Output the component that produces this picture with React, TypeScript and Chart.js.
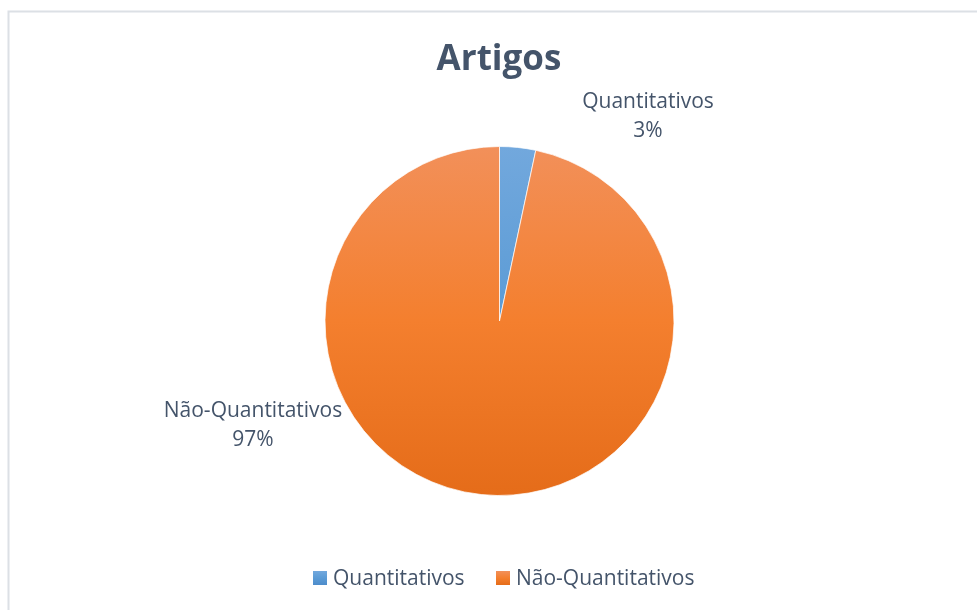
import React, { useEffect, useRef } from "react";
import { Chart, registerables } from "chart.js";

Chart.register(...registerables);

const titleText = "Artigos";
const categories = ["Quantitativos", "Não-Quantitativos"];
const values = [1, 29];
const percentLabels = ["3%", "97%"];
const gradTop = ["#72A8DD", "#F2905A"];
const gradMid = ["#5B9BD5", "#F47F2E"];
const gradBottom = ["#4D8CCB", "#E56C19"];

const FONT = "'Open Sans', 'Noto Sans', sans-serif";
const TEXT = "#44546A";

function makeGrad(ctx: CanvasRenderingContext2D, y0: number, y1: number, i: number) {
  const g = ctx.createLinearGradient(0, y0, 0, y1);
  g.addColorStop(0, gradTop[i]);
  g.addColorStop(0.5, gradMid[i]);
  g.addColorStop(1, gradBottom[i]);
  return g;
}

const overlayPlugin = {
  id: "overlay",
  afterDraw(chart: any) {
    const ctx: CanvasRenderingContext2D = chart.ctx;
    ctx.save();
    // frame
    ctx.strokeStyle = "#DCE0E5";
    ctx.lineWidth = 2;
    ctx.strokeRect(8.5, 11.5, 990, 620);
    // title
    ctx.fillStyle = TEXT;
    ctx.textAlign = "center";
    ctx.textBaseline = "middle";
    ctx.font = `bold 35px ${FONT}`;
    ctx.fillText(titleText, 499, 60);
    // data labels
    const meta = chart.getDatasetMeta(0);
    ctx.font = `21px ${FONT}`;
    const labelPos = [
      { x: 648, y: 102 },
      { x: 253, y: 411 },
    ];
    meta.data.forEach((arc: any, i: number) => {
      const p = labelPos[i];
      ctx.fillText(categories[i], p.x, p.y);
      ctx.fillText(percentLabels[i], p.x, p.y + 29);
    });
    // legend
    const legendX = [313, 496];
    categories.forEach((c, i) => {
      const x = legendX[i];
      const y = 571;
      ctx.fillStyle = makeGrad(ctx, y, y + 14, i);
      ctx.fillRect(x, y, 14, 14);
      ctx.fillStyle = TEXT;
      ctx.textAlign = "left";
      ctx.fillText(c, x + 20, y + 8);
    });
    ctx.restore();
  },
};

export default function App() {
  const ref = useRef<HTMLCanvasElement>(null);
  useEffect(() => {
    document.body.style.margin = "0";
    const canvas = ref.current!;
    const chart = new Chart(canvas, {
      type: "pie",
      data: {
        labels: categories,
        datasets: [
          {
            data: values,
            backgroundColor: (c: any) => {
              const area = c.chart.chartArea;
              if (!area) return gradMid[c.dataIndex];
              return makeGrad(c.chart.ctx, area.top, area.bottom, c.dataIndex);
            },
            borderColor: "rgba(255,255,255,0.7)",
            borderWidth: 1,
          },
        ],
      },
      options: {
        responsive: false,
        animation: false,
        layout: { padding: { top: 146, bottom: 114, left: 324, right: 302 } },
        plugins: {
          legend: { display: false },
          title: { display: false },
          tooltip: { enabled: false },
        },
      },
      plugins: [overlayPlugin],
    });
    return () => chart.destroy();
  }, []);
  return (
    <div style={{ position: "fixed", left: 0, top: 0, width: 977, height: 610, background: "#fff" }}>
      <canvas ref={ref} width={977} height={610} />
    </div>
  );
}
